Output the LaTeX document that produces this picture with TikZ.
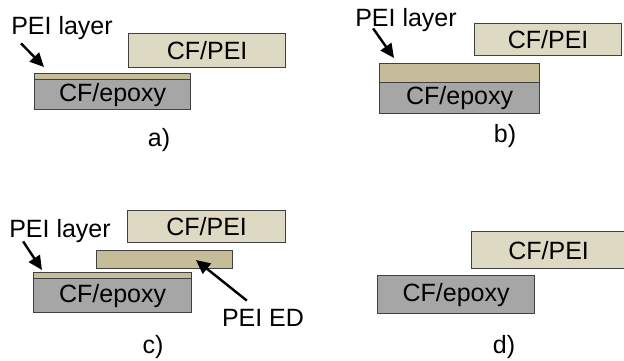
\documentclass[tikz,border=0pt]{standalone}
\usepackage{fontspec}
\setmainfont{Liberation Sans}
\usetikzlibrary{arrows.meta}
\definecolor{cfpeitan}{RGB}{221, 217, 195}
\definecolor{peitan}{RGB}{196, 189, 151}
\definecolor{epoxygray}{RGB}{166, 166, 166}
\definecolor{rimgray}{RGB}{64, 64, 64}

\begin{document}
\begin{tikzpicture}[
    x=1pt, y=-1pt,
    font=\fontsize{25}{30}\selectfont,
    plate/.style={draw=rimgray, fill=#1, line width=1.2pt, inner sep=0pt, anchor=north west},
    plate/.default=cfpeitan,
    tag/.style={inner sep=0pt, anchor=base},
    pointer/.style={line width=2.4pt, -{Triangle[length=14pt, width=13pt]}}
]

    \useasboundingbox (0, 0) rectangle (624, 360);

    % ==========================================
    % COORDINATES (arrow tips)
    % ==========================================
    \coordinate (a_tip) at (44, 67);
    \coordinate (b_tip) at (394, 58);
    \coordinate (c_tip) at (42, 270);
    \coordinate (c_edtip) at (196, 260);


    % ==========================================
    % PANEL a)
    % ==========================================
    \node[plate=cfpeitan, minimum width=157pt, minimum height=34pt] (a_cfpei) at (128, 33) {CF/PEI};
    \node[plate=peitan, minimum width=156pt, minimum height=6pt] (a_pei) at (34, 73) {};
    \node[plate=epoxygray, minimum width=156pt, minimum height=30pt] (a_epoxy) at (34, 79) {CF/epoxy};

    \node[tag] (a_lbl) at (62, 34) {PEI layer};
    \draw[pointer] ([xshift=10pt, yshift=-4pt]a_lbl.south west) -- (a_tip);

    \node[tag] (a_cap) at (159, 146) {a)};


    % ==========================================
    % PANEL b)
    % ==========================================
    \node[plate=cfpeitan, minimum width=147pt, minimum height=32pt] (b_cfpei) at (474, 23) {CF/PEI};
    \node[plate=peitan, minimum width=160pt, minimum height=19pt] (b_pei) at (379, 63) {};
    \node[plate=epoxygray, minimum width=160pt, minimum height=31pt] (b_epoxy) at (379, 82) {CF/epoxy};

    \node[tag] (b_lbl) at (406, 26) {PEI layer};
    \draw[pointer] ([xshift=18pt, yshift=3pt]b_lbl.south west) -- (b_tip);

    \node[tag] (b_cap) at (505, 142) {b)};


    % ==========================================
    % PANEL c)
    % ==========================================
    \node[plate=cfpeitan, minimum width=158pt, minimum height=32pt] (c_cfpei) at (127, 210) {CF/PEI};
    \node[plate=peitan, minimum width=136pt, minimum height=18pt] (c_ed) at (96, 250) {};
    \node[plate=peitan, minimum width=158pt, minimum height=6pt] (c_pei) at (33, 272) {};
    \node[plate=epoxygray, minimum width=158pt, minimum height=34pt] (c_epoxy) at (33, 278) {CF/epoxy};

    \node[tag] (c_lbl) at (60, 237) {PEI layer};
    \draw[pointer] ([xshift=14pt, yshift=1pt]c_lbl.south west) -- (c_tip);

    \node[tag] (c_edlbl) at (263, 326) {PEI ED};
    \draw[pointer] ([xshift=25pt, yshift=8pt]c_edlbl.north west) -- (c_edtip);

    \node[tag] (c_cap) at (153, 353) {c)};


    % ==========================================
    % PANEL d)
    % ==========================================
    \node[plate=cfpeitan, minimum width=154pt, minimum height=37pt] (d_cfpei) at (471, 231) {CF/PEI};
    \node[plate=epoxygray, minimum width=157pt, minimum height=38pt] (d_epoxy) at (377, 275) {CF/epoxy};

    \node[tag] (d_cap) at (504, 353) {d)};

\end{tikzpicture}
\end{document}
